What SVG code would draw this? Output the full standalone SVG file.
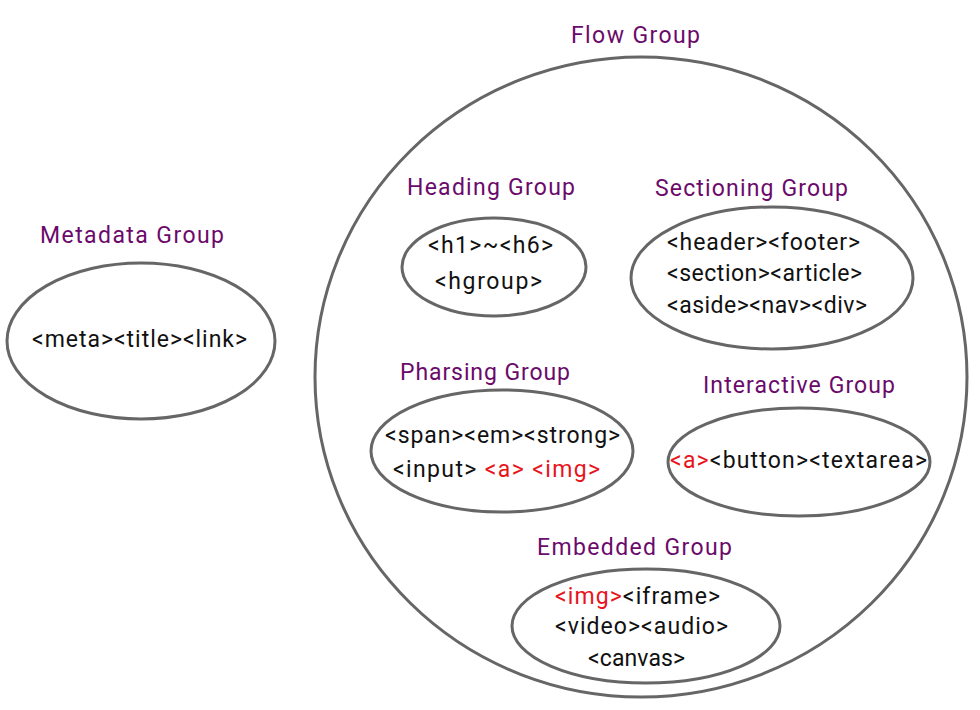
<svg xmlns="http://www.w3.org/2000/svg" width="980" height="710" viewBox="0 0 980 710">
<style>
.shape{fill:none;stroke:#666666;stroke-width:3}
.title{font-family:Roboto,"Noto Sans",sans-serif;font-size:23px;fill:#6B0A6B}
.tag{font-family:Roboto,"Noto Sans",sans-serif;font-size:23px;fill:#111111}
.red{fill:#E8141C}
</style>
<rect width="980" height="710" fill="#ffffff"/>
<g id="metadata-group">
<text class="title" x="40" y="243" textLength="184">Metadata Group</text>
<ellipse class="shape" cx="141" cy="341" rx="134" ry="78"/>
<text class="tag" x="32" y="347" textLength="215">&lt;meta&gt;&lt;title&gt;&lt;link&gt;</text>
</g>
<g id="flow-group">
<text class="title" x="571" y="43" textLength="129">Flow Group</text>
<ellipse class="shape" cx="641" cy="377" rx="326" ry="320"/>
</g>
<g id="heading-group">
<text class="title" x="407" y="195" textLength="168">Heading Group</text>
<ellipse class="shape" cx="494" cy="267" rx="92" ry="49"/>
<text class="tag" x="428" y="253" textLength="125">&lt;h1&gt;~&lt;h6&gt;</text>
<text class="tag" x="435" y="289" textLength="107">&lt;hgroup&gt;</text>
</g>
<g id="sectioning-group">
<text class="title" x="655" y="196" textLength="193">Sectioning Group</text>
<ellipse class="shape" cx="772" cy="278" rx="141" ry="71"/>
<text class="tag" x="667" y="250" textLength="193">&lt;header&gt;&lt;footer&gt;</text>
<text class="tag" x="667" y="281" textLength="195">&lt;section&gt;&lt;article&gt;</text>
<text class="tag" x="667" y="313" textLength="200">&lt;aside&gt;&lt;nav&gt;&lt;div&gt;</text>
</g>
<g id="pharsing-group">
<text class="title" x="400" y="380" textLength="170">Pharsing Group</text>
<ellipse class="shape" cx="502" cy="451" rx="131" ry="61"/>
<text class="tag" x="385" y="443" textLength="235">&lt;span&gt;&lt;em&gt;&lt;strong&gt;</text>
<text class="tag" x="393" y="477" textLength="207">&lt;input&gt; <tspan class="red">&lt;a&gt; &lt;img&gt;</tspan></text>
</g>
<g id="interactive-group">
<text class="title" x="703" y="393" textLength="192">Interactive Group</text>
<ellipse class="shape" cx="799" cy="462" rx="131" ry="54"/>
<text class="tag" x="670" y="468" textLength="257"><tspan class="red">&lt;a&gt;</tspan>&lt;button&gt;&lt;textarea&gt;</text>
</g>
<g id="embedded-group">
<text class="title" x="537" y="555" textLength="195">Embedded Group</text>
<ellipse class="shape" cx="646" cy="626" rx="134" ry="57"/>
<text class="tag" x="555" y="604" textLength="165"><tspan class="red">&lt;img&gt;</tspan>&lt;iframe&gt;</text>
<text class="tag" x="555" y="634" textLength="173">&lt;video&gt;&lt;audio&gt;</text>
<text class="tag" x="588" y="666" textLength="97">&lt;canvas&gt;</text>
</g>
</svg>
